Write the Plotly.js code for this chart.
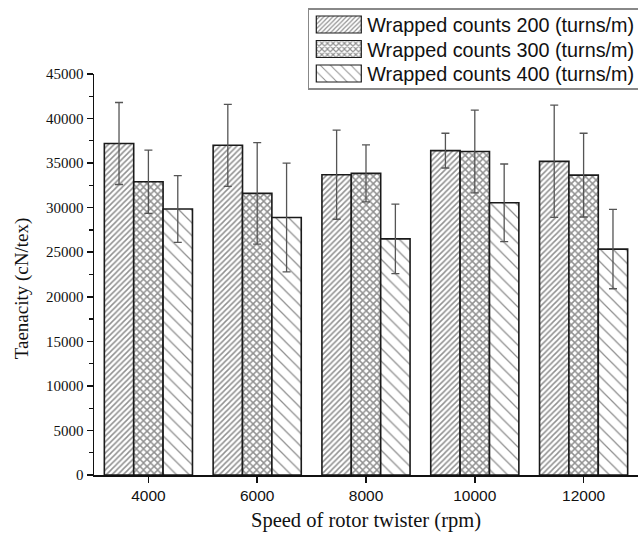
<!DOCTYPE html>
<html>
<head>
<meta charset="utf-8">
<script src="https://cdn.plot.ly/plotly-3.0.1.min.js"></script>
<style>html,body{margin:0;padding:0;background:#fff;}#chart{width:638px;height:536px;}</style>
</head>
<body>
<div id="chart"></div>
<script>
const categories = ['4000', '6000', '8000', '10000', '12000'];
const seriesNames = ['Wrapped counts 200 (turns/m)', 'Wrapped counts 300 (turns/m)', 'Wrapped counts 400 (turns/m)'];
const counts200 = [37200, 37000, 33700, 36400, 35200];
const counts200Err = [4600, 4600, 5000, 1950, 6300];
const counts300 = [32900, 31600, 33850, 36300, 33650];
const counts300Err = [3550, 5700, 3200, 4650, 4700];
const counts400 = [29850, 28900, 26500, 30550, 25350];
const counts400Err = [3750, 6100, 3900, 4350, 4450];
const yTickVals = [0, 5000, 10000, 15000, 20000, 25000, 30000, 35000, 40000, 45000];
const xTitle = 'Speed of rotor twister (rpm)';
const yTitle = 'Taenacity (cN/tex)';

const patterns = [
  {shape: '/', size: 4, solidity: 0.38},
  {shape: 'x', size: 5, solidity: 0.5},
  {shape: '\\', size: 9, solidity: 0.14}
];
const values = [counts200, counts300, counts400];
const errs = [counts200Err, counts300Err, counts400Err];

const traces = values.map((v, i) => ({
  type: 'bar',
  name: seriesNames[i],
  x: categories,
  y: v,
  error_y: {type: 'data', array: errs[i], visible: true, color: '#555555', thickness: 1.3, width: 4},
  marker: {
    color: '#ffffff',
    line: {color: '#1a1a1a', width: 1.6},
    pattern: {shape: patterns[i].shape, size: patterns[i].size, solidity: patterns[i].solidity, fgcolor: '#222222', bgcolor: '#ffffff', fillmode: 'overlay'}
  }
}));

const layout = {
  width: 638, height: 536,
  margin: {l: 94, r: 0, t: 74, b: 61, autoexpand: false},
  paper_bgcolor: '#ffffff', plot_bgcolor: '#ffffff',
  barmode: 'group', bargap: 0.19, bargroupgap: 0,
  showlegend: true,
  legend: {
    x: 0.393, y: 1.162, xanchor: 'left', yanchor: 'top',
    bordercolor: '#888888', borderwidth: 1.5, bgcolor: '#ffffff',
    font: {family: 'Liberation Sans, Arial, sans-serif', size: 19.8, color: '#111'},
    tracegroupgap: 0, itemwidth: 48
  },
  annotations: [{
    text: yTitle, textangle: -90,
    xref: 'paper', yref: 'paper', x: -0.132, y: 0.466,
    xanchor: 'center', yanchor: 'middle', showarrow: false,
    font: {family: 'Liberation Serif, Times New Roman, serif', size: 19, color: '#111'}
  }],
  xaxis: {
    type: 'category',
    range: [-0.5, 4.5],
    showline: true, linecolor: '#111', linewidth: 1.5,
    ticks: 'outside', ticklen: 6, tickwidth: 1.5, tickcolor: '#111',
    showgrid: false, zeroline: false,
    tickfont: {family: 'Liberation Sans, Arial, sans-serif', size: 15.5, color: '#111'},
    title: {text: xTitle, font: {family: 'Liberation Serif, Times New Roman, serif', size: 20.5, color: '#111'}, standoff: 9}
  },
  xaxis2: {
    overlaying: 'x', anchor: 'y', type: 'linear',
    range: [-0.5, 4.5],
    tickvals: [-0.5, 0.5, 1.5, 2.5, 3.5],
    showticklabels: false,
    ticks: 'outside', ticklen: 4, tickwidth: 1.5, tickcolor: '#111',
    showline: false, showgrid: false, zeroline: false
  },
  yaxis: {
    range: [0, 45000],
    tickvals: yTickVals,
    ticktext: yTickVals.map(String),
    showline: true, linecolor: '#111', linewidth: 1.5,
    ticks: 'outside', ticklen: 6, tickwidth: 1.5, tickcolor: '#111',
    minor: {dtick: 2500, ticks: 'outside', ticklen: 4, tickwidth: 1.2, tickcolor: '#111', showgrid: false},
    showgrid: false, zeroline: false,
    tickfont: {family: 'Liberation Serif, Times New Roman, serif', size: 15, color: '#111'}
  }
};

Plotly.newPlot('chart', traces, layout, {displayModeBar: false, staticPlot: true}).then(() => {
  const legendTop = 9, pad = 15.5, rowGap = 24.5, nRows = seriesNames.length;
  // enlarge legend swatches to match the reference's wide pattern patches
  const items = Array.from(document.querySelectorAll('.legend .traces'));
  items.forEach((g, i) => {
    const txt = g.querySelector('text.legendtext');
    const tx = txt ? parseFloat(txt.getAttribute('x')) : 40;
    g.querySelectorAll('.legendpoints path').forEach(p => {
      p.setAttribute('d', 'M22.5,8.5H-22.5V-8.5H22.5Z');
      p.setAttribute('transform', 'translate(' + (tx - 6 - 22.5) + ',0)');
      p.style.strokeWidth = '1.2px';
    });
    // tighten the row spacing
    const path = g.querySelector('.legendpoints path');
    if (path) {
      const r = path.getBoundingClientRect();
      const cur = r.top + r.height / 2;
      const want = legendTop + pad + i * rowGap;
      const tr = g.getAttribute('transform') || 'translate(0,0)';
      const m = tr.match(/translate\(\s*([-\d.e]+)[ ,]+([-\d.e]+)\s*\)/);
      if (m) g.setAttribute('transform', 'translate(' + m[1] + ',' + (parseFloat(m[2]) + want - cur) + ')');
    }
  });
  const bg = document.querySelector('.legend rect.bg');
  if (bg) {
    const r = bg.getBoundingClientRect();
    const y0 = parseFloat(bg.getAttribute('y') || 0);
    bg.setAttribute('y', y0 + (legendTop - r.top));
    bg.setAttribute('height', 2 * pad + (nRows - 1) * rowGap);
  }
});
</script>
</body>
</html>
